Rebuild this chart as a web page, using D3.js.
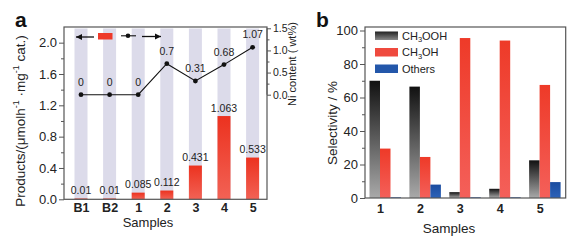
<!DOCTYPE html>
<html><head><meta charset="utf-8">
<script src="https://cdn.jsdelivr.net/npm/d3@7"></script>
<style>
body{margin:0;background:#fff;}
svg{display:block;font-family:"Liberation Sans",Arial,sans-serif;}
</style></head>
<body><svg id="c" width="583" height="244"></svg>
<script>
// ---- Panel a data ----
const samplesA = ["B1","B2","1","2","3","4","5"];
const products = [0.01,0.01,0.085,0.112,0.431,1.063,0.533];
const productLabels = ["0.01","0.01","0.085","0.112","0.431","1.063","0.533"];
const niContent = [0,0,0,0.7,0.31,0.68,1.07];
const niLabels = ["0","0","0","0.7","0.31","0.68","1.07"];
const leftTicksA = [0,0.4,0.8,1.2,1.6,2.0];
const rightTicksA = [0,0.5,1.0,1.5];
// ---- Panel b data ----
const samplesB = ["1","2","3","4","5"];
const seriesB = ["CH3OOH","CH3OH","Others"];
const ch3ooh = [70,66.5,3.5,5.5,22.5];
const ch3oh = [29.5,24.5,95.5,94,67.5];
const others = [0.4,8,0.4,0.4,9.5];
const ticksB = [0,20,40,60,80,100];

const svg = d3.select("#c");
const defs = svg.append("defs");
function vgrad(id, top, bot){
  const g = defs.append("linearGradient").attr("id",id).attr("x1",0).attr("y1",0).attr("x2",0).attr("y2",1);
  g.append("stop").attr("offset","0%").attr("stop-color",top);
  g.append("stop").attr("offset","100%").attr("stop-color",bot);
}
vgrad("gRedA","#ec321f","#f26255");
vgrad("gGray","#111111","#a9a9a9");
vgrad("gRed","#ee3a28","#f4605a");
vgrad("gBlue","#1b4c9f","#2c62b8");
vgrad("gGrayL","#222222","#8a8a8a");

const axisColor = "#555";
const textColor = "#222";

// ================= Panel a =================
const A = {l:64, r:267, t:27, b:199.3};
const xA = d3.scalePoint().domain(samplesA).range([81, 252.6]);
const yA = d3.scaleLinear().domain([0,2.2]).range([A.b, A.t]);
const y2A = d3.scaleLinear().domain([0,1.5]).range([94.7, 28.3]);
const bwA = 13;
const gA = svg.append("g");

// background lavender bars
gA.selectAll("rect.bg").data(samplesA).join("rect")
  .attr("x", d=>xA(d)-bwA/2).attr("width", bwA)
  .attr("y", A.t+1.5).attr("height", A.b-A.t-1.5)
  .attr("fill","#dcdbea");

// red bars
gA.selectAll("rect.val").data(products).join("rect")
  .attr("x",(d,i)=>xA(samplesA[i])-bwA/2).attr("width",bwA)
  .attr("y",d=>yA(d)).attr("height",d=>A.b-yA(d))
  .attr("fill","url(#gRedA)");

gA.selectAll("text.pl").data(productLabels).join("text")
  .attr("x",(d,i)=>xA(samplesA[i])).attr("y",(d,i)=>yA(products[i])-4.5)
  .attr("text-anchor","middle").attr("font-size",10.5).attr("fill",textColor).text(d=>d);

// line
const line = d3.line().x((d,i)=>xA(samplesA[i])).y(d=>y2A(d));
gA.append("path").datum(niContent).attr("d",line).attr("fill","none").attr("stroke","#111").attr("stroke-width",1.1);
gA.selectAll("circle.p").data(niContent).join("circle")
  .attr("cx",(d,i)=>xA(samplesA[i])).attr("cy",d=>y2A(d)).attr("r",2.4).attr("fill","#111");
gA.selectAll("text.nl").data(niLabels).join("text")
  .attr("x",(d,i)=>xA(samplesA[i])).attr("y",(d,i)=>y2A(niContent[i])-9)
  .attr("text-anchor","middle").attr("font-size",10.5).attr("fill",textColor).text(d=>d);

// frame
gA.append("rect").attr("x",A.l).attr("y",A.t).attr("width",A.r-A.l).attr("height",A.b-A.t)
  .attr("fill","none").attr("stroke",axisColor).attr("stroke-width",1.2);

// left axis
const leftAxA = d3.axisLeft(yA).tickValues(leftTicksA).tickFormat(d3.format(".1f")).tickSize(5).tickPadding(2);
const lA = gA.append("g").attr("transform",`translate(${A.l},0)`).call(leftAxA);
lA.select(".domain").remove();
lA.selectAll("line").attr("stroke",axisColor);
lA.selectAll("text").attr("font-size",13).attr("fill",textColor).attr("font-family","Liberation Sans, Arial");
gA.append("g").attr("transform",`translate(${A.l},0)`)
  .call(d3.axisLeft(yA).tickValues([0.2,0.6,1.0,1.4,1.8]).tickSize(3).tickFormat(""))
  .call(g=>{g.select(".domain").remove();g.selectAll("line").attr("stroke",axisColor);});

// right axis
const rA = gA.append("g").attr("transform",`translate(${A.r},0)`)
  .call(d3.axisRight(y2A).tickValues(rightTicksA).tickFormat(d3.format(".1f")).tickSize(4).tickPadding(2));
rA.select(".domain").attr("stroke",axisColor).attr("d",`M0,${y2A(1.5)}V${y2A(0)}`);
rA.selectAll("line").attr("stroke",axisColor);
rA.selectAll("text").attr("font-size",10.5).attr("fill",textColor).attr("font-family","Liberation Sans, Arial");
gA.append("g").attr("transform",`translate(${A.r},0)`)
  .call(d3.axisRight(y2A).tickValues([0.25,0.75,1.25]).tickSize(2.5).tickFormat(""))
  .call(g=>{g.select(".domain").remove();g.selectAll("line").attr("stroke",axisColor);});

// bottom tick labels
const bA = gA.append("g").attr("transform",`translate(0,${A.b})`)
  .call(d3.axisBottom(xA).tickSize(0).tickPadding(4));
bA.select(".domain").remove();
bA.selectAll("text").attr("font-size",12.5).attr("fill",textColor).attr("font-weight","bold").attr("font-family","Liberation Sans, Arial");

gA.append("text").attr("x",148).attr("y",226.5).attr("text-anchor","middle").attr("font-size",13).attr("fill",textColor).text("Samples");

// left axis label
const ylab = gA.append("text").attr("transform","translate(25,121) rotate(-90)").attr("text-anchor","middle")
  .attr("font-size",13.5).attr("fill",textColor);
ylab.append("tspan").text("Products/(μmolh");
ylab.append("tspan").attr("font-size",9).attr("dy",-6).text("-1");
ylab.append("tspan").attr("dy",6).text(" ·mg");
ylab.append("tspan").attr("font-size",9).attr("dy",-6).text("-1");
ylab.append("tspan").attr("dy",6).text(" cat.)");

gA.append("text").attr("transform","translate(295.5,64) rotate(-90)").attr("text-anchor","middle")
  .attr("font-size",11).attr("fill",textColor).text("Ni content ( wt%)");

// legend a
const legY = 37;
function arrow(x1,x2,y){
  gA.append("line").attr("x1",x1).attr("x2",x2).attr("y1",y).attr("y2",y).attr("stroke","#111").attr("stroke-width",1.3);
  const dir = x2>x1?1:-1;
  gA.append("path").attr("d",`M${x2},${y}L${x2-dir*6},${y-3}L${x2-dir*6},${y+3}Z`).attr("fill","#111");
}
arrow(94,76,legY);
gA.append("rect").attr("x",98).attr("y",33).attr("width",14.5).attr("height",6.5).attr("fill","#ee3a2a");
gA.append("line").attr("x1",121).attr("x2",136).attr("y1",35.8).attr("y2",35.8).attr("stroke","#111").attr("stroke-width",1.1);
gA.append("circle").attr("cx",128).attr("cy",35.8).attr("r",2.3).attr("fill","#111");
arrow(142,161,36.5);

svg.append("text").attr("x",15).attr("y",27).attr("font-size",21).attr("font-weight","bold").attr("fill","#111").text("a");

// ================= Panel b =================
const B = {l:365, r:565.7, t:27, b:198};
const xB = d3.scalePoint().domain(samplesB).range([380, 539.6]);
const xSub = d3.scaleBand().domain(seriesB).range([-10.5, 21]);
const yB = d3.scaleLinear().domain([0,100]).range([B.b, 30.5]);
const gB = svg.append("g");
const valuesB = [ch3ooh, ch3oh, others];
const fills = ["url(#gGray)","url(#gRed)","url(#gBlue)"];
seriesB.forEach((s,k)=>{
  gB.selectAll(`rect.s${k}`).data(valuesB[k]).join("rect")
    .attr("x",(d,i)=>xB(samplesB[i])+xSub(s)).attr("width",xSub.bandwidth())
    .attr("y",d=>yB(d)).attr("height",d=>B.b-yB(d))
    .attr("fill",fills[k]);
});

gB.append("rect").attr("x",B.l).attr("y",B.t).attr("width",B.r-B.l).attr("height",B.b-B.t)
  .attr("fill","none").attr("stroke",axisColor).attr("stroke-width",1.2);

const lB = gB.append("g").attr("transform",`translate(${B.l},0)`)
  .call(d3.axisLeft(yB).tickValues(ticksB).tickSize(5).tickPadding(2));
lB.select(".domain").remove();
lB.selectAll("line").attr("stroke",axisColor);
lB.selectAll("text").attr("font-size",13).attr("fill",textColor).attr("font-family","Liberation Sans, Arial");
gB.append("g").attr("transform",`translate(${B.l},0)`)
  .call(d3.axisLeft(yB).tickValues([10,30,50,70,90]).tickSize(3).tickFormat(""))
  .call(g=>{g.select(".domain").remove();g.selectAll("line").attr("stroke",axisColor);});

const bB = gB.append("g").attr("transform",`translate(0,${B.b})`)
  .call(d3.axisBottom(xB).tickSize(0).tickPadding(6));
bB.select(".domain").remove();
bB.selectAll("text").attr("font-size",12.5).attr("fill",textColor).attr("font-weight","bold").attr("font-family","Liberation Sans, Arial");

gB.append("text").attr("x",449).attr("y",233).attr("text-anchor","middle").attr("font-size",13.5).attr("fill",textColor).text("Samples");
gB.append("text").attr("transform","translate(337,123) rotate(-90)").attr("text-anchor","middle")
  .attr("font-size",13.5).attr("fill",textColor).text("Selectivity / %");

// legend b
const legFills = ["url(#gGrayL)","#ef4a3e","#2357aa"];
const legRowsY = [35.5, 52, 68.5];
seriesB.forEach((s,k)=>{
  gB.append("rect").attr("x",375).attr("y",legRowsY[k]-4).attr("width",23).attr("height",8.5).attr("fill",legFills[k]);
  const t = gB.append("text").attr("x",402).attr("y",legRowsY[k]+4).attr("font-size",11).attr("fill",textColor);
  if(s==="Others"){ t.text("Others"); }
  else {
    t.append("tspan").text("CH");
    t.append("tspan").attr("font-size",7.5).attr("dy",2.5).text("3");
    t.append("tspan").attr("dy",-2.5).text(s.slice(3));
  }
});

svg.append("text").attr("x",316).attr("y",27).attr("font-size",21).attr("font-weight","bold").attr("fill","#111").text("b");
</script></body></html>
